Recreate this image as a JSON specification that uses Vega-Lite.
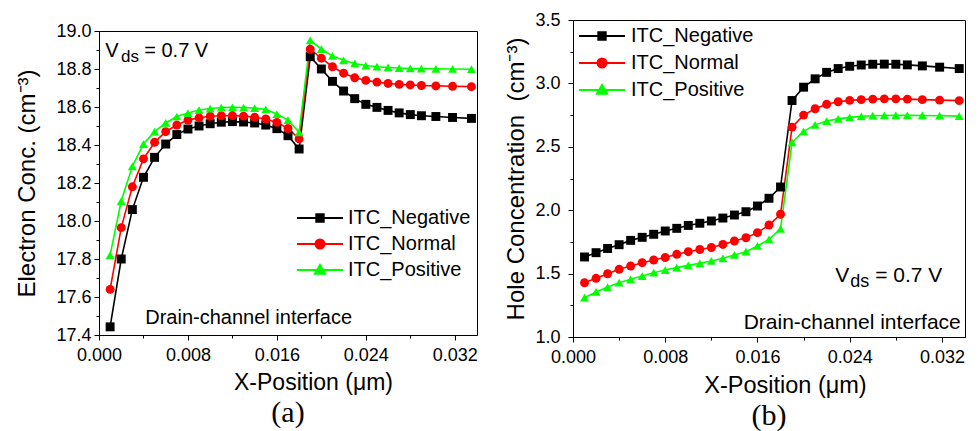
{
  "$schema": "https://vega.github.io/schema/vega-lite/v6.json",
  "background": "white",
  "padding": {"left": 15, "top": 10, "right": 2, "bottom": 0},
  "datasets": {
    "electron": [
      {"x": 0.001, "ITC_Negative": 17.443, "ITC_Normal": 17.64, "ITC_Positive": 17.82},
      {"x": 0.002, "ITC_Negative": 17.80, "ITC_Normal": 17.965, "ITC_Positive": 18.105},
      {"x": 0.003, "ITC_Negative": 18.06, "ITC_Normal": 18.18, "ITC_Positive": 18.288},
      {"x": 0.004, "ITC_Negative": 18.23, "ITC_Normal": 18.327, "ITC_Positive": 18.405},
      {"x": 0.005, "ITC_Negative": 18.335, "ITC_Normal": 18.414, "ITC_Positive": 18.47},
      {"x": 0.006, "ITC_Negative": 18.405, "ITC_Normal": 18.47, "ITC_Positive": 18.516},
      {"x": 0.007, "ITC_Negative": 18.455, "ITC_Normal": 18.505, "ITC_Positive": 18.55},
      {"x": 0.008, "ITC_Negative": 18.484, "ITC_Normal": 18.531, "ITC_Positive": 18.568},
      {"x": 0.009, "ITC_Negative": 18.50, "ITC_Normal": 18.543, "ITC_Positive": 18.584},
      {"x": 0.010, "ITC_Negative": 18.512, "ITC_Normal": 18.551, "ITC_Positive": 18.592},
      {"x": 0.011, "ITC_Negative": 18.52, "ITC_Normal": 18.554, "ITC_Positive": 18.597},
      {"x": 0.012, "ITC_Negative": 18.523, "ITC_Normal": 18.555, "ITC_Positive": 18.598},
      {"x": 0.013, "ITC_Negative": 18.521, "ITC_Normal": 18.552, "ITC_Positive": 18.597},
      {"x": 0.014, "ITC_Negative": 18.516, "ITC_Normal": 18.546, "ITC_Positive": 18.594},
      {"x": 0.015, "ITC_Negative": 18.505, "ITC_Normal": 18.537, "ITC_Positive": 18.587},
      {"x": 0.016, "ITC_Negative": 18.486, "ITC_Normal": 18.519, "ITC_Positive": 18.563},
      {"x": 0.017, "ITC_Negative": 18.449, "ITC_Normal": 18.487, "ITC_Positive": 18.531},
      {"x": 0.018, "ITC_Negative": 18.379, "ITC_Normal": 18.432, "ITC_Positive": 18.467},
      {"x": 0.019, "ITC_Negative": 18.865, "ITC_Normal": 18.904, "ITC_Positive": 18.951},
      {"x": 0.020, "ITC_Negative": 18.80, "ITC_Normal": 18.857, "ITC_Positive": 18.904},
      {"x": 0.021, "ITC_Negative": 18.735, "ITC_Normal": 18.812, "ITC_Positive": 18.869},
      {"x": 0.022, "ITC_Negative": 18.684, "ITC_Normal": 18.778, "ITC_Positive": 18.846},
      {"x": 0.023, "ITC_Negative": 18.644, "ITC_Normal": 18.754, "ITC_Positive": 18.829},
      {"x": 0.024, "ITC_Negative": 18.614, "ITC_Normal": 18.74, "ITC_Positive": 18.818},
      {"x": 0.025, "ITC_Negative": 18.598, "ITC_Normal": 18.731, "ITC_Positive": 18.812},
      {"x": 0.026, "ITC_Negative": 18.582, "ITC_Normal": 18.724, "ITC_Positive": 18.808},
      {"x": 0.027, "ITC_Negative": 18.569, "ITC_Normal": 18.719, "ITC_Positive": 18.805},
      {"x": 0.028, "ITC_Negative": 18.56, "ITC_Normal": 18.716, "ITC_Positive": 18.803},
      {"x": 0.029, "ITC_Negative": 18.554, "ITC_Normal": 18.713, "ITC_Positive": 18.802},
      {"x": 0.0303, "ITC_Negative": 18.55, "ITC_Normal": 18.711, "ITC_Positive": 18.801},
      {"x": 0.0318, "ITC_Negative": 18.545, "ITC_Normal": 18.709, "ITC_Positive": 18.80},
      {"x": 0.0335, "ITC_Negative": 18.54, "ITC_Normal": 18.707, "ITC_Positive": 18.799}
    ],
    "hole": [
      {"x": 0.001, "ITC_Negative": 1.631, "ITC_Normal": 1.428, "ITC_Positive": 1.31},
      {"x": 0.002, "ITC_Negative": 1.665, "ITC_Normal": 1.463, "ITC_Positive": 1.355},
      {"x": 0.003, "ITC_Negative": 1.698, "ITC_Normal": 1.499, "ITC_Positive": 1.394},
      {"x": 0.004, "ITC_Negative": 1.728, "ITC_Normal": 1.534, "ITC_Positive": 1.428},
      {"x": 0.005, "ITC_Negative": 1.762, "ITC_Normal": 1.56, "ITC_Positive": 1.455},
      {"x": 0.006, "ITC_Negative": 1.786, "ITC_Normal": 1.586, "ITC_Positive": 1.481},
      {"x": 0.007, "ITC_Negative": 1.81, "ITC_Normal": 1.607, "ITC_Positive": 1.507},
      {"x": 0.008, "ITC_Negative": 1.836, "ITC_Normal": 1.627, "ITC_Positive": 1.528},
      {"x": 0.009, "ITC_Negative": 1.857, "ITC_Normal": 1.652, "ITC_Positive": 1.547},
      {"x": 0.010, "ITC_Negative": 1.88, "ITC_Normal": 1.673, "ITC_Positive": 1.565},
      {"x": 0.011, "ITC_Negative": 1.897, "ITC_Normal": 1.69, "ITC_Positive": 1.581},
      {"x": 0.012, "ITC_Negative": 1.915, "ITC_Normal": 1.706, "ITC_Positive": 1.60},
      {"x": 0.013, "ITC_Negative": 1.938, "ITC_Normal": 1.73, "ITC_Positive": 1.621},
      {"x": 0.014, "ITC_Negative": 1.962, "ITC_Normal": 1.757, "ITC_Positive": 1.647},
      {"x": 0.015, "ITC_Negative": 1.988, "ITC_Normal": 1.783, "ITC_Positive": 1.673},
      {"x": 0.016, "ITC_Negative": 2.033, "ITC_Normal": 1.823, "ITC_Positive": 1.718},
      {"x": 0.017, "ITC_Negative": 2.094, "ITC_Normal": 1.883, "ITC_Positive": 1.77},
      {"x": 0.018, "ITC_Negative": 2.183, "ITC_Normal": 1.968, "ITC_Positive": 1.852},
      {"x": 0.019, "ITC_Negative": 2.865, "ITC_Normal": 2.655, "ITC_Positive": 2.535},
      {"x": 0.020, "ITC_Negative": 2.97, "ITC_Normal": 2.75, "ITC_Positive": 2.622},
      {"x": 0.021, "ITC_Negative": 3.036, "ITC_Normal": 2.80, "ITC_Positive": 2.673},
      {"x": 0.022, "ITC_Negative": 3.087, "ITC_Normal": 2.835, "ITC_Positive": 2.703},
      {"x": 0.023, "ITC_Negative": 3.117, "ITC_Normal": 2.855, "ITC_Positive": 2.72},
      {"x": 0.024, "ITC_Negative": 3.135, "ITC_Normal": 2.866, "ITC_Positive": 2.732},
      {"x": 0.025, "ITC_Negative": 3.145, "ITC_Normal": 2.872, "ITC_Positive": 2.74},
      {"x": 0.026, "ITC_Negative": 3.151, "ITC_Normal": 2.876, "ITC_Positive": 2.745},
      {"x": 0.027, "ITC_Negative": 3.152, "ITC_Normal": 2.878, "ITC_Positive": 2.747},
      {"x": 0.028, "ITC_Negative": 3.151, "ITC_Normal": 2.878, "ITC_Positive": 2.748},
      {"x": 0.029, "ITC_Negative": 3.146, "ITC_Normal": 2.876, "ITC_Positive": 2.748},
      {"x": 0.0303, "ITC_Negative": 3.138, "ITC_Normal": 2.872, "ITC_Positive": 2.747},
      {"x": 0.0318, "ITC_Negative": 3.128, "ITC_Normal": 2.868, "ITC_Positive": 2.745},
      {"x": 0.0335, "ITC_Negative": 3.117, "ITC_Normal": 2.864, "ITC_Positive": 2.742}
    ]
  },
  "config": {
    "font": "Liberation Sans",
    "view": {"stroke": "#000000", "strokeWidth": 1},
    "axis": {
      "grid": false, "domainColor": "#000000", "domainWidth": 1, "tickColor": "#000000", "tickWidth": 1, "tickSize": 5,
      "labelColor": "#000000", "titleColor": "#000000", "labelFont": "Liberation Sans", "titleFont": "Liberation Sans",
      "titleFontWeight": "normal", "labelFontSize": 18, "titleFontSize": 23, "labelOverlap": false, "labelFlush": false
    },
    "legend": {"labelFont": "Liberation Sans", "labelColor": "#000000"},
    "title": {"font": "Liberation Serif", "fontWeight": "normal", "fontSize": 30, "color": "#000000"}
  },
  "spacing": 26,
  "resolve": {"scale": {"color": "independent", "shape": "independent"}, "legend": {"color": "independent"}},
  "hconcat": [
    {
      "spacing": 0,
      "vconcat": [
        {"width": 378, "height": 1, "data": {"values": []}, "mark": "point", "encoding": {}, "view": {"stroke": null}},
        {
          "width": 378, "height": 304,
          "title": {"text": "(a)", "orient": "bottom", "frame": "group", "offset": 4},
          "resolve": {"axis": {"x": "independent", "y": "independent"}},
          "layer": [
            {
              "data": {"name": "electron"},
              "transform": [{"fold": ["ITC_Negative", "ITC_Normal", "ITC_Positive"], "as": ["series", "value"]}],
              "mark": {"type": "line", "strokeWidth": 1.6},
              "encoding": {
                "x": {"field": "x", "type": "quantitative", "scale": {"domain": [0, 0.034], "nice": false, "zero": false},
                      "axis": {"orient": "bottom", "title": "X-Position (μm)", "values": [0, 0.008, 0.016, 0.024, 0.032], "format": ".3f", "labelPadding": 6, "titlePadding": 7, "titleX": 214, "titleFontSize": 23}},
                "y": {"field": "value", "type": "quantitative", "scale": {"domain": [17.4, 19.0], "nice": false, "zero": false},
                      "axis": {"orient": "left", "title": "Electron Conc. (cm⁻³)", "values": [17.4, 17.6, 17.8, 18.0, 18.2, 18.4, 18.6, 18.8, 19.0], "format": ".1f", "labelPadding": 3, "titlePadding": 16, "titleFontSize": 24}},
                "color": {"field": "series", "type": "nominal",
                  "scale": {"domain": ["ITC_Negative", "ITC_Normal", "ITC_Positive"], "range": ["#000000", "#ff0000", "#00ff00"]},
                  "legend": {
                    "title": null, "orient": "none", "legendX": 198, "legendY": 187, "padding": 0,
                    "labelFontSize": 20, "labelOffset": 17, "symbolSize": 400, "symbolOffset": 12, "rowPadding": 5,
                    "encode": {"symbols": {"update": {
                      "shape": {"signal": "datum.value === 'ITC_Negative' ? 'M-2.3,0H2.3M-0.38,-0.38H0.38V0.38H-0.38Z' : datum.value === 'ITC_Normal' ? 'M-2.3,0H2.3M0.46,0A0.46,0.46,0,1,1,-0.46,0A0.46,0.46,0,1,1,0.46,0Z' : 'M-2.3,0H2.3M0,-0.52L0.52,0.38L-0.52,0.38Z'"},
                      "fill": {"signal": "datum.value === 'ITC_Negative' ? '#000000' : datum.value === 'ITC_Normal' ? '#ff0000' : '#00ff00'"},
                      "stroke": {"signal": "datum.value === 'ITC_Negative' ? '#000000' : datum.value === 'ITC_Normal' ? '#ff0000' : '#00ff00'"},
                      "strokeWidth": {"value": 1.8},
                      "opacity": {"value": 1}
                    }}}
                  }
                }
              }
            },
            {
              "data": {"name": "electron"},
              "transform": [{"fold": ["ITC_Negative", "ITC_Normal", "ITC_Positive"], "as": ["series", "value"]}],
              "mark": {"type": "point", "filled": true, "opacity": 1, "size": 80},
              "encoding": {
                "x": {"field": "x", "type": "quantitative", "axis": null},
                "y": {"field": "value", "type": "quantitative", "axis": null},
                "color": {"field": "series", "type": "nominal"},
                "shape": {"field": "series", "type": "nominal", "scale": {"range": ["square", "circle", "triangle-up"]}, "legend": null}
              }
            },
            {
              "data": {"values": [{"t": "V"}]},
              "mark": {"type": "text", "fontSize": 20, "align": "left", "baseline": "alphabetic", "color": "#000000"},
              "encoding": {"x": {"datum": 0.00057, "axis": null}, "y": {"datum": 18.865, "axis": null}, "text": {"field": "t"}}
            },
            {
              "data": {"values": [{"t": "ds"}]},
              "mark": {"type": "text", "fontSize": 17, "align": "left", "baseline": "alphabetic", "color": "#000000"},
              "encoding": {"x": {"datum": 0.00198, "axis": null}, "y": {"datum": 18.837, "axis": null}, "text": {"field": "t"}}
            },
            {
              "data": {"values": [{"t": "= 0.7 V"}]},
              "mark": {"type": "text", "fontSize": 20, "align": "left", "baseline": "alphabetic", "color": "#000000"},
              "encoding": {"x": {"datum": 0.00407, "axis": null}, "y": {"datum": 18.865, "axis": null}, "text": {"field": "t"}}
            },
            {
              "data": {"values": [{"t": "Drain-channel interface"}]},
              "mark": {"type": "text", "fontSize": 20, "align": "left", "baseline": "alphabetic", "color": "#000000"},
              "encoding": {
                "x": {"datum": 0.00416, "axis": {"orient": "bottom", "values": [0.004, 0.012, 0.020, 0.028], "labels": false, "domain": false, "title": null, "tickSize": 3}},
                "y": {"datum": 17.457, "axis": {"orient": "left", "values": [17.5, 17.7, 17.9, 18.1, 18.3, 18.5, 18.7, 18.9], "labels": false, "domain": false, "title": null, "tickSize": 3}},
                "text": {"field": "t"}
              }
            }
          ]
        }
      ]
    },
    {
      "width": 392, "height": 317,
      "title": {"text": "(b)", "orient": "bottom", "frame": "group", "offset": 4},
      "resolve": {"axis": {"x": "independent", "y": "independent"}},
      "layer": [
        {
          "data": {"name": "hole"},
          "transform": [{"fold": ["ITC_Negative", "ITC_Normal", "ITC_Positive"], "as": ["series", "value"]}],
          "mark": {"type": "line", "strokeWidth": 1.6},
          "encoding": {
            "x": {"field": "x", "type": "quantitative", "scale": {"domain": [0, 0.034], "nice": false, "zero": false},
                  "axis": {"orient": "bottom", "title": "X-Position (μm)", "values": [0, 0.008, 0.016, 0.024, 0.032], "format": ".3f", "labelPadding": 6, "titlePadding": 7, "titleX": 212, "titleFontSize": 23.5}},
            "y": {"field": "value", "type": "quantitative", "scale": {"domain": [1.0, 3.5], "nice": false, "zero": false},
                  "axis": {"orient": "left", "title": "Hole Concentration\u00a0 (cm⁻³)", "values": [1.0, 1.5, 2.0, 2.5, 3.0, 3.5], "format": ".1f", "labelPadding": 8, "titlePadding": 6, "titleFontSize": 24}},
            "color": {"field": "series", "type": "nominal",
              "scale": {"domain": ["ITC_Negative", "ITC_Normal", "ITC_Positive"], "range": ["#000000", "#ff0000", "#00ff00"]},
              "legend": {
                "title": null, "orient": "none", "legendX": 6, "legendY": 5, "padding": 0,
                "labelFontSize": 20, "labelOffset": 18, "symbolSize": 400, "symbolOffset": 12, "rowPadding": 6,
                "encode": {"symbols": {"update": {
                  "shape": {"signal": "datum.value === 'ITC_Negative' ? 'M-2.3,0H2.3M-0.38,-0.38H0.38V0.38H-0.38Z' : datum.value === 'ITC_Normal' ? 'M-2.3,0H2.3M0.46,0A0.46,0.46,0,1,1,-0.46,0A0.46,0.46,0,1,1,0.46,0Z' : 'M-2.3,0H2.3M0,-0.52L0.52,0.38L-0.52,0.38Z'"},
                  "fill": {"signal": "datum.value === 'ITC_Negative' ? '#000000' : datum.value === 'ITC_Normal' ? '#ff0000' : '#00ff00'"},
                  "stroke": {"signal": "datum.value === 'ITC_Negative' ? '#000000' : datum.value === 'ITC_Normal' ? '#ff0000' : '#00ff00'"},
                  "strokeWidth": {"value": 1.8},
                  "opacity": {"value": 1}
                }}}
              }
            }
          }
        },
        {
          "data": {"name": "hole"},
          "transform": [{"fold": ["ITC_Negative", "ITC_Normal", "ITC_Positive"], "as": ["series", "value"]}],
          "mark": {"type": "point", "filled": true, "opacity": 1, "size": 80},
          "encoding": {
            "x": {"field": "x", "type": "quantitative", "axis": null},
            "y": {"field": "value", "type": "quantitative", "axis": null},
            "color": {"field": "series", "type": "nominal"},
            "shape": {"field": "series", "type": "nominal", "scale": {"range": ["square", "circle", "triangle-up"]}, "legend": null}
          }
        },
        {
          "data": {"values": [{"t": "V"}]},
          "mark": {"type": "text", "fontSize": 21, "align": "left", "baseline": "alphabetic", "color": "#000000"},
          "encoding": {"x": {"datum": 0.02275, "axis": null}, "y": {"datum": 1.436, "axis": null}, "text": {"field": "t"}}
        },
        {
          "data": {"values": [{"t": "ds"}]},
          "mark": {"type": "text", "fontSize": 18, "align": "left", "baseline": "alphabetic", "color": "#000000"},
          "encoding": {"x": {"datum": 0.02405, "axis": null}, "y": {"datum": 1.394, "axis": null}, "text": {"field": "t"}}
        },
        {
          "data": {"values": [{"t": "= 0.7 V"}]},
          "mark": {"type": "text", "fontSize": 21, "align": "left", "baseline": "alphabetic", "color": "#000000"},
          "encoding": {"x": {"datum": 0.02621, "axis": null}, "y": {"datum": 1.436, "axis": null}, "text": {"field": "t"}}
        },
        {
          "data": {"values": [{"t": "Drain-channel interface"}]},
          "mark": {"type": "text", "fontSize": 21, "align": "left", "baseline": "alphabetic", "color": "#000000"},
          "encoding": {
            "x": {"datum": 0.0148, "axis": {"orient": "bottom", "values": [0.004, 0.012, 0.020, 0.028], "labels": false, "domain": false, "title": null, "tickSize": 3}},
            "y": {"datum": 1.061, "axis": {"orient": "left", "values": [1.25, 1.75, 2.25, 2.75, 3.25], "labels": false, "domain": false, "title": null, "tickSize": 3}},
            "text": {"field": "t"}
          }
        }
      ]
    }
  ]
}
